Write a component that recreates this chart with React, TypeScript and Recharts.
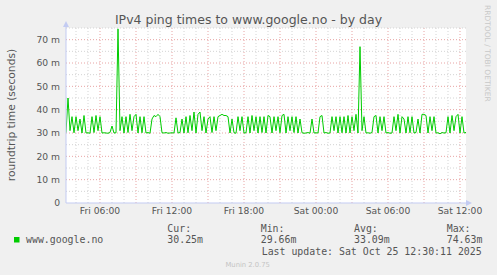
import React from 'react'
import { LineChart, Line, XAxis, YAxis, CartesianGrid, ReferenceLine } from 'recharts'

// samples every 10 minutes, starting Fri 03:10 (hours counted from Fri 00:00)
const START_HOUR = 3 + 10 / 60
const STEP_HOURS = 10 / 60
const END_HOUR = 36.5

// ping time in milliseconds
const pingMs = [
  30.2, 45, 31, 37, 30.1, 37, 31, 36, 30, 37.5,
  30, 30.1, 29.9, 37, 30.2, 37.5, 31, 37, 30, 30.1,
  30, 29.9, 30.2, 33, 30, 30.1, 74.63, 31, 37, 30,
  37, 30.2, 38, 31, 37, 38, 30, 37, 30.1, 37,
  30, 30.2, 29.9, 36, 37.5, 37, 38, 37, 30.1, 30,
  30.2, 29.9, 30, 30.1, 30, 36.5, 30, 30.2, 36, 30,
  37, 30.1, 37.5, 31, 39, 30, 38, 39, 31, 37,
  30, 36, 37, 30.2, 37, 31, 37, 37.5, 38, 37.5,
  37.5, 37, 30, 36, 30.1, 29.9, 37, 31, 37, 30,
  30.1, 37, 30, 37.5, 31, 37, 30, 37, 30.2, 37,
  30, 37.5, 37, 30, 37, 31, 37, 30.1, 37.5, 38,
  30, 37, 31, 37, 30.2, 37, 30, 36, 30.1, 29.9,
  30, 30.2, 29.9, 36, 30, 30.1, 30, 37, 37.5, 30,
  30.2, 29.9, 30, 37, 31, 37, 30, 37, 30.1, 37,
  30, 37.5, 30, 37, 31, 38, 30, 67, 31, 37,
  30, 30.1, 29.9, 30.2, 37, 37.5, 30, 37, 31, 37,
  30, 30.2, 29.9, 30, 37, 31, 38, 30, 37, 36,
  30, 37, 30.1, 37, 30, 30.2, 36, 30, 38, 38,
  37.5, 30, 37, 31, 37, 30, 30.1, 29.66, 30.2, 30,
  30.1, 37, 30, 37.5, 31, 37, 38, 30, 37, 30,
  30.25,
]

const timeTicks = [6, 12, 18, 24, 30, 36]
const timeTickLabels = ['Fri 06:00', 'Fri 12:00', 'Fri 18:00', 'Sat 00:00', 'Sat 06:00', 'Sat 12:00']
const valueTicks = [0, 10, 20, 30, 40, 50, 60, 70]
const hourLines = Array.from({ length: 33 }, (_, i) => i + 4)
const halfStepLines = [5, 15, 25, 35, 45, 55, 65, 75]

const statLabels = ['Cur:', 'Min:', 'Avg:', 'Max:']
const statValues = ['30.25m', '29.66m', '33.09m', '74.63m']

const data = pingMs.map((v, i) => ({ t: START_HOUR + i * STEP_HOURS, v }))

const TEXT = '#555555'
const MINOR = '#d4d4d4'
const MAJOR = '#e8a4a4'
const AXIS = '#c3cbf2'
const SANS = '"DejaVu Sans", sans-serif'
const MONO = '"DejaVu Sans Mono", monospace'

export default function App() {
  return (
    <div style={{ position: 'absolute', left: 0, top: 0, width: 497, height: 275, background: '#f0f0f0' }}>
      <LineChart
        width={497}
        height={275}
        data={data}
        margin={{ top: 28, right: 31, bottom: 52, left: 26 }}
      >
        <CartesianGrid fill="#ffffff" stroke="none" horizontal={false} vertical={false} />
        {hourLines.map((h) => (
          <ReferenceLine
            key={'h' + h}
            x={h}
            stroke={h % 3 === 0 ? MAJOR : MINOR}
            strokeDasharray="1 2"
          />
        ))}
        {halfStepLines.map((v) => (
          <ReferenceLine key={'m' + v} y={v} stroke={MINOR} strokeDasharray="1 2" />
        ))}
        {valueTicks.slice(1).map((v) => (
          <ReferenceLine key={'M' + v} y={v} stroke={MAJOR} strokeDasharray="1 2" />
        ))}
        <XAxis
          dataKey="t"
          type="number"
          domain={[START_HOUR, END_HOUR]}
          ticks={timeTicks}
          tickFormatter={(v) => timeTickLabels[timeTicks.indexOf(v)] ?? ''}
          height={20}
          axisLine={{ stroke: AXIS }}
          tickLine={false}
          tickSize={4}
          tickMargin={0}
          tick={{ fill: TEXT, fontSize: 9.2, fontFamily: SANS }}
          allowDataOverflow
        />
        <YAxis
          type="number"
          domain={[0, 75]}
          ticks={valueTicks}
          tickFormatter={(v) => (v === 0 ? '0' : `${v} m`)}
          width={40}
          axisLine={{ stroke: AXIS }}
          tickLine={false}
          tickSize={6}
          tickMargin={0}
          tick={{ fill: TEXT, fontSize: 9.2, fontFamily: SANS }}
          allowDataOverflow
        />
        <Line
          type="linear"
          dataKey="v"
          stroke="#00cc00"
          strokeWidth={1}
          dot={false}
          isAnimationActive={false}
        />
      </LineChart>

      <svg
        width={497}
        height={275}
        style={{ position: 'absolute', left: 0, top: 0, pointerEvents: 'none' }}
      >
        <polygon points="63,27 69,27 66,21" fill={AXIS} />
        <line x1={66} y1={27} x2={66} y2={28} stroke={AXIS} />
        <polygon points="466,200 466,206 472,203" fill={AXIS} />

        <text x={248.5} y={24} textAnchor="middle" fontFamily={SANS} fontSize={12.5} fill={TEXT}>
          IPv4 ping times to www.google.no - by day
        </text>
        <text
          transform="translate(14.5,115) rotate(-90)"
          textAnchor="middle"
          fontFamily={SANS}
          fontSize={10.7}
          fill={TEXT}
        >
          roundtrip time (seconds)
        </text>
        <text
          transform="translate(485,5) rotate(90)"
          fontFamily={SANS}
          fontSize={7.5}
          fill="#c8c8c8"
        >
          RRDTOOL / TOBI OETIKER
        </text>

        <rect x={14} y={237} width={5.5} height={5.5} fill="#00cc00" />
        <text x={26} y={243} fontFamily={MONO} fontSize={9.9} fill={TEXT}>
          www.google.no
        </text>
        {statLabels.map((s, i) => (
          <text key={s} x={[167.3, 260.7, 354, 446.7][i]} y={231.5} fontFamily={MONO} fontSize={9.9} fill={TEXT}>
            {s}
          </text>
        ))}
        {statValues.map((s, i) => (
          <text key={s} x={[167.3, 260.7, 354, 446.7][i]} y={243} fontFamily={MONO} fontSize={9.9} fill={TEXT}>
            {s}
          </text>
        ))}
        <text x={261.7} y={254.5} fontFamily={MONO} fontSize={9.9} fill={TEXT}>
          Last update: Sat Oct 25 12:30:11 2025
        </text>
        <text x={247.7} y={267} textAnchor="middle" fontFamily={SANS} fontSize={6.8} fill="#c4c4c4">
          Munin 2.0.75
        </text>
      </svg>
    </div>
  )
}
